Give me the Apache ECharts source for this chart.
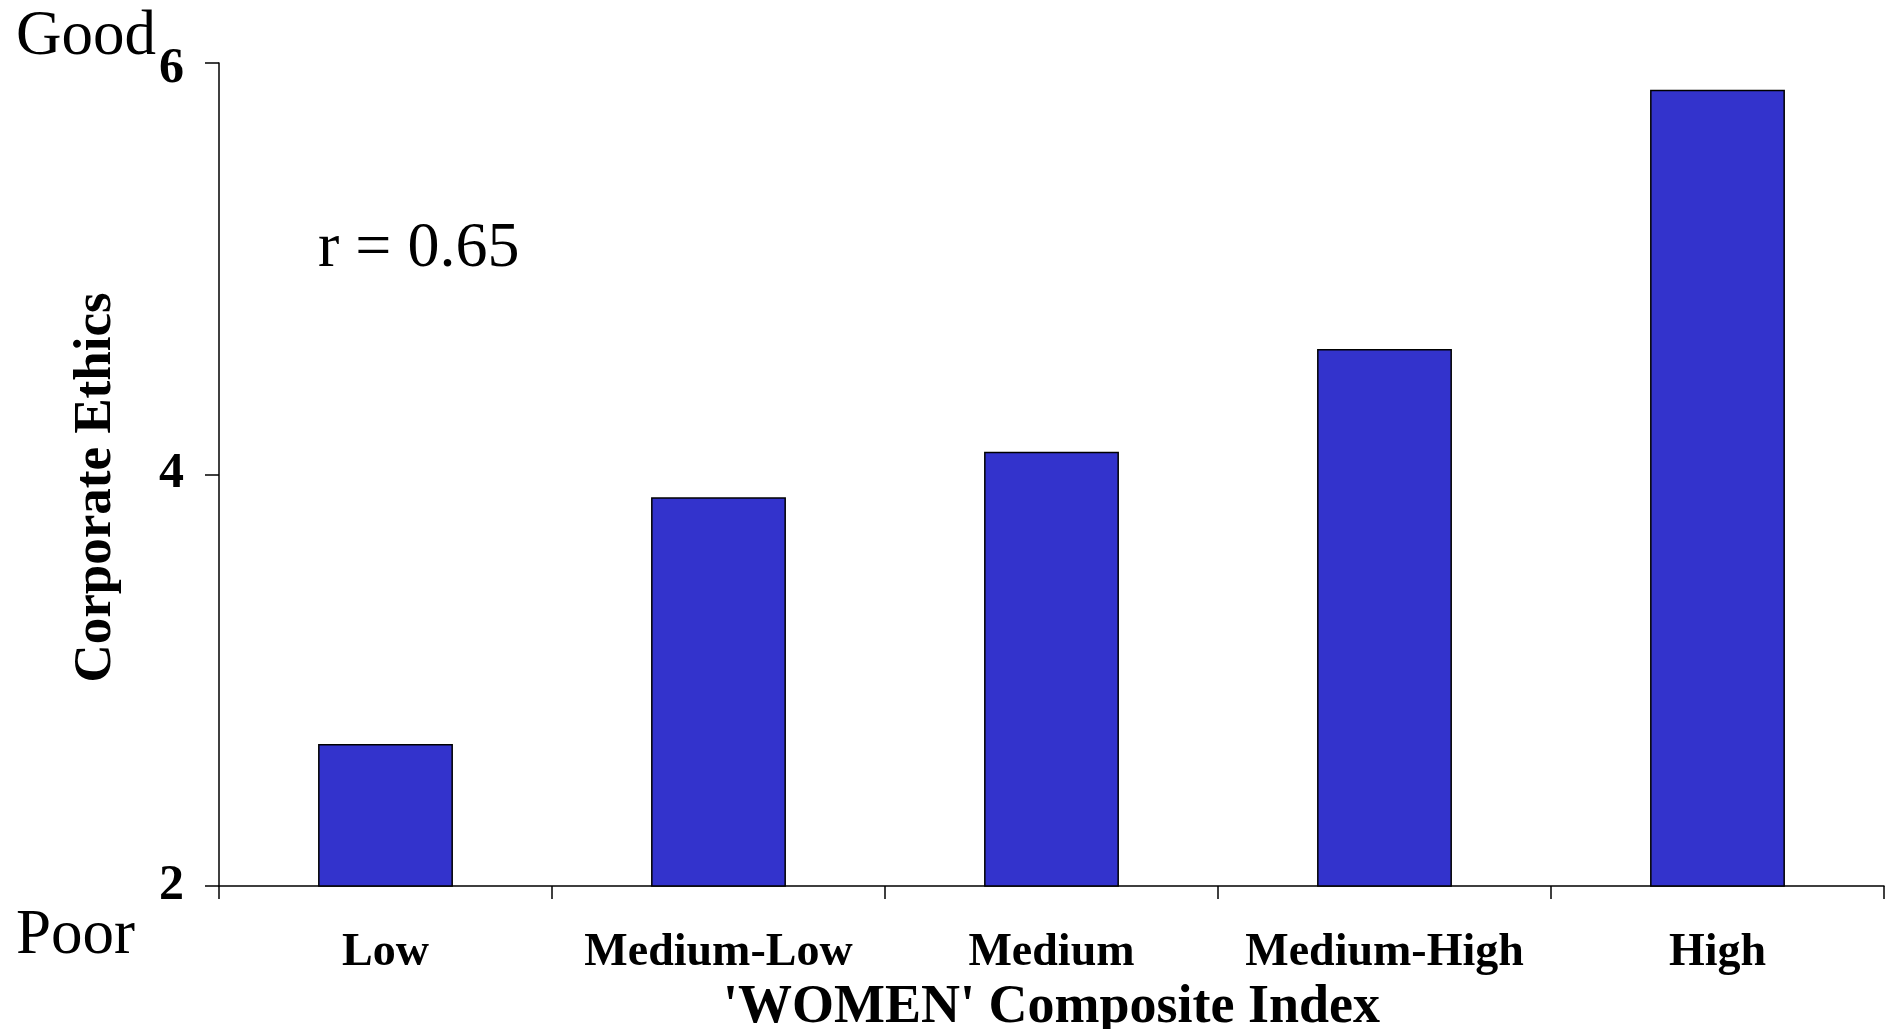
<!DOCTYPE html>
<html>
<head>
<meta charset="utf-8">
<script src="https://cdn.jsdelivr.net/npm/echarts@6/dist/echarts.min.js"></script>
<style>
html,body{margin:0;padding:0;background:#fff;}
#chart{width:1890px;height:1029px;}
</style>
</head>
<body>
<div id="chart"></div>
<script>
const categories = ['Low', 'Medium-Low', 'Medium', 'Medium-High', 'High'];
const ethicsValues = [2.69, 3.89, 4.11, 4.61, 5.87];
const yTicks = [2, 4, 6];
const xTitle = "'WOMEN' Composite Index";
const yTitle = 'Corporate Ethics';
const annotation = 'r = 0.65';

const serif = '"Liberation Serif", "Times New Roman", serif';
const yMax = yTicks[yTicks.length - 1];
const chart = echarts.init(document.getElementById('chart'));
chart.setOption({
  backgroundColor: '#ffffff',
  animation: false,
  grid: {left: 219, right: 6, top: 63, bottom: 143, containLabel: false, outerBoundsMode: 'none'},
  xAxis: {
    type: 'category',
    data: categories,
    boundaryGap: true,
    axisLine: {lineStyle: {color: '#000', width: 1.5}},
    axisTick: {show: true, length: 13, inside: false, alignWithLabel: false, lineStyle: {color: '#000', width: 1.5}},
    axisLabel: {interval: 0, color: '#000', fontFamily: serif, fontWeight: 'bold', fontSize: 46, margin: 44},
    name: xTitle,
    nameLocation: 'middle',
    nameGap: 95,
    nameTextStyle: {color: '#000', fontFamily: serif, fontWeight: 'bold', fontSize: 54}
  },
  yAxis: {
    type: 'value',
    min: yTicks[0],
    max: yMax,
    interval: 2,
    splitLine: {show: false},
    axisLine: {show: true, lineStyle: {color: '#000', width: 1.5}},
    axisTick: {show: true, length: 14, lineStyle: {color: '#000', width: 1.5}},
    axisLabel: {
      color: '#000', fontFamily: serif, fontWeight: 'bold', fontSize: 50, margin: 35,
      formatter: function (v) { return v === yMax ? '{t|' + v + '}' : String(v); },
      rich: {t: {color: '#000', fontFamily: serif, fontWeight: 'bold', fontSize: 50, padding: [12, 0, 0, 0]}}
    },
    name: yTitle,
    nameLocation: 'middle',
    nameGap: 96,
    nameRotate: 90,
    nameTextStyle: {color: '#000', fontFamily: serif, fontWeight: 'bold', fontSize: 53, padding: [0, 26, 0, 0]}
  },
  series: [{
    type: 'bar',
    data: ethicsValues,
    barWidth: '40.5%',
    itemStyle: {color: '#3333CC', borderColor: '#000', borderWidth: 1.5}
  }],
  graphic: [
    {type: 'text', left: 16, top: 6, style: {text: 'Good', font: '63px ' + serif, fill: '#000'}},
    {type: 'text', left: 16, top: 905, style: {text: 'Poor', font: '63px ' + serif, fill: '#000'}},
    {type: 'text', left: 318, top: 217, style: {text: annotation, font: '64px ' + serif, fill: '#000'}}
  ]
});
</script>
</body>
</html>
